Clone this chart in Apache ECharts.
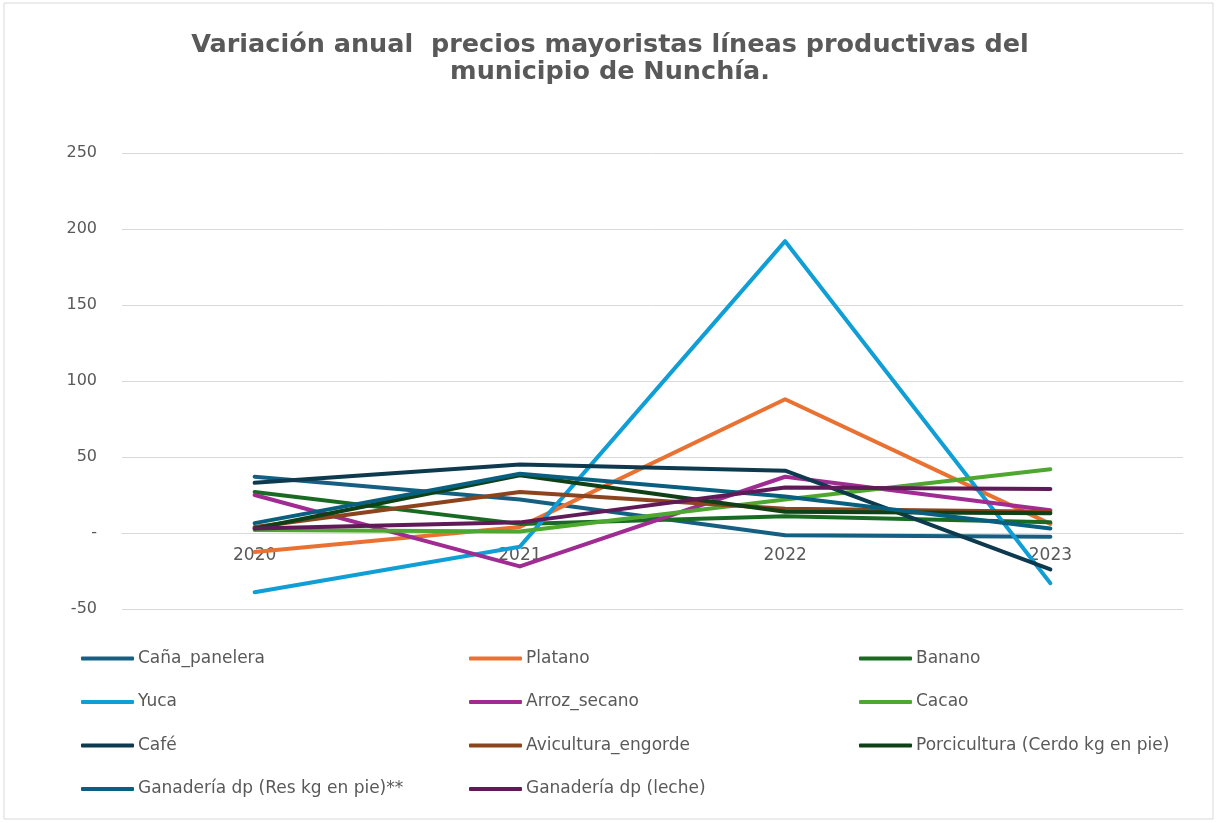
<!DOCTYPE html>
<html>
<head>
<meta charset="utf-8">
<script src="https://cdn.jsdelivr.net/npm/echarts@6/dist/echarts.min.js"></script>
<style>
html,body{margin:0;padding:0;background:#fff;}
#c{width:1219px;height:823px;}
</style>
</head>
<body>
<div id="c"></div>
<script>
const categories = ['2020', '2021', '2022', '2023'];
const yTicks = { min: -50, max: 250, interval: 50 };

const canaPanelera   = [37, 22, -1.5, -2.5];
const platano        = [-12.5, 4, 88, 6];
const banano         = [27, 6, 11, 7];
const yuca           = [-39, -9, 192, -33];
const arrozSecano    = [25, -22, 37, 15];
const cacao          = [2, 1, 22, 42];
const cafe           = [33, 45, 41, -24];
const avicultura     = [4, 27, 16, 14];
const porcicultura   = [3, 38, 14, 13];
const ganaderiaRes   = [6.5, 39, 24, 3];
const ganaderiaLeche = [3, 7, 30, 29];

const seriesNames = [
  'Caña_panelera', 'Platano', 'Banano', 'Yuca', 'Arroz_secano', 'Cacao',
  'Café', 'Avicultura_engorde', 'Porcicultura (Cerdo kg en pie)',
  'Ganadería dp (Res kg en pie)**', 'Ganadería dp (leche)'
];
const seriesData = [
  canaPanelera, platano, banano, yuca, arrozSecano, cacao,
  cafe, avicultura, porcicultura, ganaderiaRes, ganaderiaLeche
];
const colors = [
  '#156082', '#E97132', '#196B24', '#0F9ED5', '#A02B93', '#4EA72E',
  '#0D3A4E', '#8C441E', '#0F4016', '#095F80', '#601A58'
];

const legendCols = [
  [0, 3, 6, 9],
  [1, 4, 7, 10],
  [2, 5, 8]
];
const legendLeft = [76, 464, 854];

const gridBox = { left: 122, right: 36, top: 153, bottom: 214 };
const plotHeight = 823 - gridBox.top - gridBox.bottom;
// move the category axis up to the value 0
const zeroOffset = -plotHeight * (0 - yTicks.min) / (yTicks.max - yTicks.min);

const chart = echarts.init(document.getElementById('c'), null, { renderer: 'canvas' });

const option = {
  backgroundColor: '#ffffff',
  animation: false,
  color: colors,
  title: {
    text: 'Variación anual  precios mayoristas líneas productivas del\nmunicipio de Nunchía.',
    left: 605,
    top: 27,
    textAlign: 'center',
    textStyle: {
      fontFamily: 'DejaVu Sans, sans-serif',
      fontWeight: 'bold',
      fontSize: 25.5,
      lineHeight: 27,
      color: '#595959'
    }
  },
  graphic: [{
    type: 'rect',
    shape: { x: 4, y: 3, width: 1209, height: 816 },
    style: { fill: null, stroke: '#d9d9d9', lineWidth: 1 },
    silent: true
  }],
  legend: legendCols.map((col, i) => ({
    orient: 'vertical',
    left: legendLeft[i],
    top: 645,
    icon: 'roundRect',
    itemWidth: 53,
    itemHeight: 4,
    itemGap: 26.5,
    data: col.map(k => seriesNames[k]),
    textStyle: {
      fontFamily: 'DejaVu Sans, sans-serif',
      fontSize: 17,
      lineHeight: 15,
      color: '#595959',
      padding: [0, 0, 0, -1]
    }
  })),
  grid: { left: gridBox.left, right: gridBox.right, top: gridBox.top, bottom: gridBox.bottom, containLabel: false },
  xAxis: {
    type: 'category',
    data: categories,
    boundaryGap: true,
    offset: zeroOffset,
    axisLine: { show: true, onZero: false, lineStyle: { color: '#d9d9d9', width: 1 } },
    axisTick: { show: false },
    axisLabel: {
      margin: 14,
      fontFamily: 'DejaVu Sans, sans-serif',
      fontSize: 17,
      color: '#595959'
    },
    splitLine: { show: false }
  },
  yAxis: {
    type: 'value',
    min: yTicks.min,
    max: yTicks.max,
    interval: yTicks.interval,
    axisLine: { show: false },
    axisTick: { show: false },
    axisLabel: {
      margin: 25,
      fontFamily: 'DejaVu Sans, sans-serif',
      fontSize: 16,
      color: '#595959',
      formatter: v => (v === 0 ? '-' : String(v))
    },
    splitLine: { lineStyle: { color: '#d9d9d9', width: 1 } }
  },
  series: seriesNames.map((name, i) => ({
    name: name,
    type: 'line',
    data: seriesData[i],
    symbol: 'none',
    showSymbol: false,
    lineStyle: { width: 4, cap: 'round', join: 'round', color: colors[i] },
    itemStyle: { color: colors[i] }
  }))
};

chart.setOption(option);
</script>
</body>
</html>
